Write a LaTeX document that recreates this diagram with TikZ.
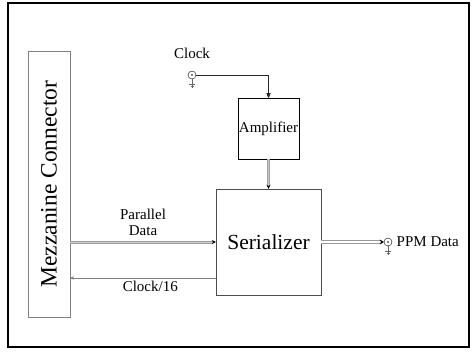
\documentclass[tikz,border=0pt]{standalone}
\usepackage{fontspec}
\setmainfont{Liberation Serif}
\usetikzlibrary{arrows,arrows.meta,positioning}

\begin{document}
\begin{tikzpicture}[-,>=stealth',x=1pt,y=-1pt,
    every node/.style={font=\fontsize{15}{16}\selectfont},
    block/.style={draw, inner sep=1pt},
    coax/.style={draw, circle, minimum size=8pt, inner sep=0pt},
    bus/.style={draw=gray!75, line width=1pt, double=gray!40, double distance=1pt,
                -{Stealth[length=4pt,width=4pt,black]}},
    outbus/.style={draw=gray!80, line width=0.7pt, double=white, double distance=1.8pt,
                -{Stealth[length=4pt,width=5pt,black]}},
    wire/.style={draw=black!85, line width=0.8pt, ->}]
  \useasboundingbox (0,0) rectangle (476,351);
  \draw[line width=2pt] (8,3) rectangle (469,347);

  \node (mezz) [block, draw=gray, rotate=90, minimum width=266pt, minimum height=42pt,
                font=\fontsize{23.5}{25}\selectfont] at (49,184)    {Mezzanine Connector};
  \node (ser)  [block, draw=black!70, minimum width=105pt, minimum height=106pt,
                font=\fontsize{21.5}{24}\selectfont] at (268.5,242) {Serializer};
  \node (amp)  [block, minimum width=61pt, minimum height=61pt] at (268.5,128.5) {Amplifier};
  \node (clk)  [coax, label={[label distance=9pt]above:Clock}] at (192,75)  {};
  \node (ppm)  [coax, label={[label distance=1pt]right:PPM Data}] at (388,242) {};
  \coordinate (c16) at ([yshift=-36pt]ser.west);

  % coax centre dots and grounds
  \foreach \c in {clk,ppm} {
    \fill (\c) circle (0.9pt);
    \draw[gray!80!black, line width=0.6pt] (\c.south) -- ++(0,9)
         ([xshift=-3pt,yshift=-5pt]\c.south) -- ++(6,0)
         ([xshift=-1.5pt,yshift=-7.5pt]\c.south) -- ++(3,0);
  }

  \draw[wire] (clk.east) -| (amp.north);
  \path (amp.south)       edge [bus]    (ser.north)
        (mezz.south |- ser) edge [bus]  node [above=3pt, align=center] {Parallel\\Data} (ser.west)
        (ser.east)        edge [outbus] (ppm.west)
        (c16)             edge [->, gray, thin] node [below, pos=.45, text=black] {Clock/16} (c16 -| mezz.south);
\end{tikzpicture}
\end{document}
